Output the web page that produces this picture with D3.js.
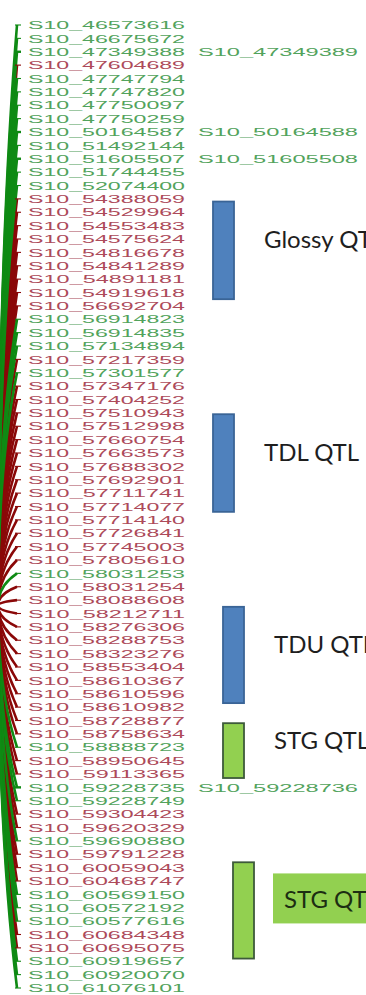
<!DOCTYPE html>
<html>
<head>
<meta charset="utf-8">
<script src="https://d3js.org/d3.v7.min.js"></script>
<style>
    body { margin: 0; background: #fff; overflow: hidden; }
    svg { display: block; }
</style>
</head>
<body>
<div id="chart"></div>
<script>
// markers on chromosome 10, top to bottom
const markers = [
    "S10_46573616", "S10_46675672", "S10_47349388", "S10_47604689", "S10_47747794",
    "S10_47747820", "S10_47750097", "S10_47750259", "S10_50164587", "S10_51492144",
    "S10_51605507", "S10_51744455", "S10_52074400", "S10_54388059", "S10_54529964",
    "S10_54553483", "S10_54575624", "S10_54816678", "S10_54841289", "S10_54891181",
    "S10_54919618", "S10_56692704", "S10_56914823", "S10_56914835", "S10_57134894",
    "S10_57217359", "S10_57301577", "S10_57347176", "S10_57404252", "S10_57510943",
    "S10_57512998", "S10_57660754", "S10_57663573", "S10_57688302", "S10_57692901",
    "S10_57711741", "S10_57714077", "S10_57714140", "S10_57726841", "S10_57745003",
    "S10_57805610", "S10_58031253", "S10_58031254", "S10_58088608", "S10_58212711",
    "S10_58276306", "S10_58288753", "S10_58323276", "S10_58553404", "S10_58610367",
    "S10_58610596", "S10_58610982", "S10_58728877", "S10_58758634", "S10_58888723",
    "S10_58950645", "S10_59113365", "S10_59228735", "S10_59228749", "S10_59304423",
    "S10_59620329", "S10_59690880", "S10_59791228", "S10_60059043", "S10_60468747",
    "S10_60569150", "S10_60572192", "S10_60577616", "S10_60684348", "S10_60695075",
    "S10_60919657", "S10_60920070", "S10_61076101"
];
// G = green link, R = red link
const markerClass = [
    "G","G","G","R","G","G","G","G","G","G",
    "G","G","G","R","R","R","R","R","R","R",
    "R","R","G","G","G","R","G","R","R","R",
    "R","R","R","R","R","R","R","R","R","R",
    "R","G","R","R","R","R","R","R","R","R",
    "R","R","R","R","G","R","R","G","G","R",
    "R","G","R","R","R","G","G","G","R","R",
    "G","G","G"
];
// second marker sharing the same row
const pairedRow = [2, 8, 10, 57];
const pairedName = ["S10_47349389", "S10_50164588", "S10_51605508", "S10_59228736"];

// row where the links meet the other map
const hubRow = 43.4;

// QTL intervals in marker-row units
const qtlNames = ["Glossy QTL", "TDL QTL", "TDU QTL", "STG QTL", "STG QTL"];
const qtlStart = [13.2, 29.1, 43.5, 52.2, 62.6];
const qtlEnd = [20.5, 36.4, 50.7, 56.3, 69.8];
const qtlTrait = ["glossy", "tdl", "tdu", "stg", "stg"];
const qtlLane = [0, 0, 1, 1, 2];
const qtlBoxed = [false, false, false, false, true];

const width = 366, height = 995;
const colors = { G: "#0f8a14", R: "#8a0808" };
const textColors = { G: "#52a35c", R: "#ad4a5a" };
const traitFill = { glossy: "#4f81bd", tdl: "#4f81bd", tdu: "#4f81bd", stg: "#92d050" };
const traitStroke = { glossy: "#3a6496", tdl: "#3a6496", tdu: "#3a6496", stg: "#3d5a3a" };

const svg = d3.select("#chart").append("svg")
    .attr("width", width)
    .attr("height", height);

const y = d3.scaleLinear().domain([0, markers.length - 1]).range([25, 988]);
const laneX = d3.scaleLinear().domain([0, 2]).range([213, 233]);

const tickX0 = 15, tickX1 = 21, labelX = 28;
const hubX = -2, ctrlX = -2;

const rows = markers.map((m, i) => ({ name: m, i, cls: markerClass[i] }));

// links: red drawn first, green on top
const hubY = y(hubRow);
const linkPath = d => {
    const p = d3.path();
    const y0 = y(d.i);
    p.moveTo(tickX1 - 4, y0);
    p.quadraticCurveTo(ctrlX, y0 + 0.4 * (hubY - y0), hubX, hubY);
    return p.toString();
};

svg.append("g")
    .selectAll("path")
    .data(rows.filter(d => d.cls === "R").concat(rows.filter(d => d.cls === "G")))
    .join("path")
    .attr("d", linkPath)
    .attr("fill", "none")
    .attr("stroke", d => colors[d.cls])
    .attr("stroke-width", 2.6);

// ticks
svg.append("g")
    .selectAll("line")
    .data(rows)
    .join("line")
    .attr("x1", tickX0)
    .attr("x2", tickX1)
    .attr("y1", d => y(d.i))
    .attr("y2", d => y(d.i))
    .attr("stroke", d => colors[d.cls])
    .attr("stroke-width", d => pairedRow.includes(d.i) ? 2.4 : 1.1);

// marker labels
const labelFont = "11.5px 'Liberation Sans', Arial, sans-serif";
svg.append("g")
    .selectAll("text")
    .data(rows)
    .join("text")
    .attr("x", labelX)
    .attr("y", d => y(d.i))
    .attr("dy", "0.36em")
    .attr("textLength", 157)
    .attr("lengthAdjust", "spacingAndGlyphs")
    .style("font", labelFont)
    .attr("fill", d => textColors[d.cls])
    .text(d => d.name);

svg.append("g")
    .selectAll("text")
    .data(pairedRow.map((r, k) => ({ i: r, name: pairedName[k] })))
    .join("text")
    .attr("x", labelX + 170)
    .attr("y", d => y(d.i))
    .attr("dy", "0.36em")
    .attr("textLength", 160)
    .attr("lengthAdjust", "spacingAndGlyphs")
    .style("font", labelFont)
    .attr("fill", textColors.G)
    .text(d => d.name);

// QTL boxes and names
const qtls = qtlNames.map((n, k) => ({
    name: n, start: qtlStart[k], end: qtlEnd[k], trait: qtlTrait[k],
    lane: qtlLane[k], boxed: qtlBoxed[k]
}));
const boxW = 21;

const q = svg.append("g").selectAll("g").data(qtls).join("g");

q.append("rect")
    .attr("x", d => laneX(d.lane))
    .attr("y", d => y(d.start))
    .attr("width", boxW)
    .attr("height", d => y(d.end) - y(d.start))
    .attr("fill", d => traitFill[d.trait])
    .attr("stroke", d => traitStroke[d.trait])
    .attr("stroke-width", 1.8);

q.filter(d => d.boxed).append("rect")
    .attr("x", d => laneX(d.lane) + boxW + 19)
    .attr("y", d => (y(d.start) + y(d.end)) / 2 - 37)
    .attr("width", 120)
    .attr("height", 50)
    .attr("fill", d => traitFill[d.trait]);

// names run past the right edge, as in the source figure
q.append("text")
    .attr("x", d => laneX(d.lane) + boxW + 30)
    .attr("y", d => (y(d.start) + y(d.end)) / 2 - 2)
    .style("font", "24px Lato, 'Open Sans', sans-serif")
    .attr("fill", d => d.boxed ? "#1c2e12" : "#1e1e1e")
    .text(d => d.name);
</script>
</body>
</html>
